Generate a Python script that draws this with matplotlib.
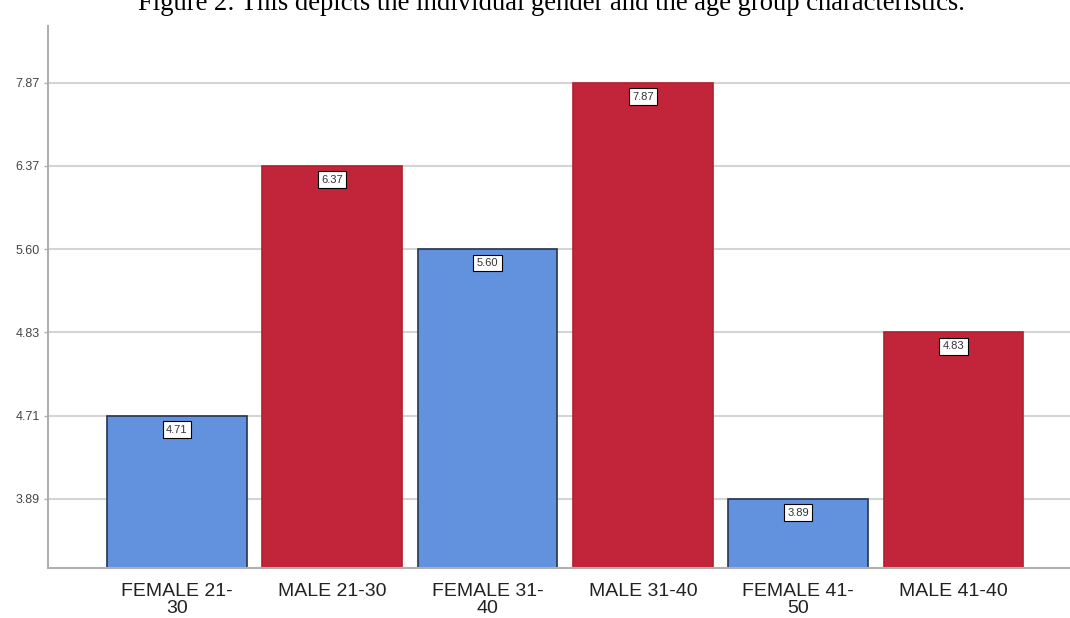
import numpy as np
import matplotlib
matplotlib.use('Agg')
import matplotlib.pyplot as plt

# Средние значения по группам (пол + возраст)
groups = ['FEMALE 21-\n30', 'MALE 21-30', 'FEMALE 31-\n40',
          'MALE 31-40', 'FEMALE 41-\n50', 'MALE 41-40']
means = [4.71, 6.37, 5.60, 7.87, 3.89, 4.83]
genders = ['F', 'M', 'F', 'M', 'F', 'M']

# Деления оси Y стоят ровно на значениях столбцов, с равным шагом
tick_values = sorted(means)

colors = {'F': '#6292de', 'M': '#c22539'}
edges = {'F': '#27354d', 'M': '#b0202f'}

# Порядковая шкала: каждое значение -> его номер, между ними линейно
anchors = [tick_values[0] - 1.0] + tick_values + [tick_values[-1] + 1.0]
ranks = np.arange(-1, len(tick_values) + 1, dtype=float)


def forward(v):
    return np.interp(v, anchors, ranks)


def inverse(r):
    return np.interp(r, ranks, anchors)


fig = plt.figure(figsize=(10.7, 6.18), dpi=100)
ax = fig.add_axes([48 / 1070, 1 - 568 / 618, 1 - 48 / 1070, (568 - 26) / 618])
ax.set_yscale('function', functions=(forward, inverse))

y_low = float(inverse(-0.83))
y_high = float(inverse(5.68))
ax.set_ylim(y_low, y_high)
ax.set_xlim(-0.83, 5.75)

x = np.arange(len(groups))
heights = [m - y_low for m in means]
ax.bar(x, heights, bottom=y_low, width=0.9,
       color=[colors[g] for g in genders],
       edgecolor=[edges[g] for g in genders], linewidth=1.2, zorder=2)

# Подписи значений в белых рамках под верхом столбца
for xi, m in zip(x, means):
    ax.annotate(f'{m:.2f}', xy=(xi, m), xytext=(0, -10),
                textcoords='offset points', ha='center', va='center',
                fontsize=8, color='#333333', family='Liberation Sans',
                bbox=dict(boxstyle='square,pad=0.3', fc='white',
                          ec='black', lw=0.8), zorder=3)

ax.set_yticks(tick_values)
ax.set_yticklabels([f'{v:.2f}' for v in tick_values],
                   fontsize=9, color='#444444', family='Liberation Sans')
ax.set_xticks(x)
ax.set_xticklabels(groups, fontsize=14, color='#222222',
                   family='Liberation Sans', linespacing=1.0)
ax.tick_params(axis='x', length=0, pad=11)
ax.tick_params(axis='y', length=3, width=1, color='#b0b0b0', pad=3)

ax.grid(axis='y', color='#d4d4d4', linewidth=1.5, zorder=0)
ax.set_axisbelow(True)
for side in ['top', 'right']:
    ax.spines[side].set_visible(False)
for side in ['left', 'bottom']:
    ax.spines[side].set_color('#b0b0b0')
    ax.spines[side].set_linewidth(1.5)

fig.text(551 / 1070, 1 - 9.5 / 618,
         'Figure 2: This depicts the individual gender and the age group characteristics.',
         ha='center', va='baseline', fontsize=19.2, family='Liberation Serif',
         color='black')

fig.savefig('out.png', dpi=100)
